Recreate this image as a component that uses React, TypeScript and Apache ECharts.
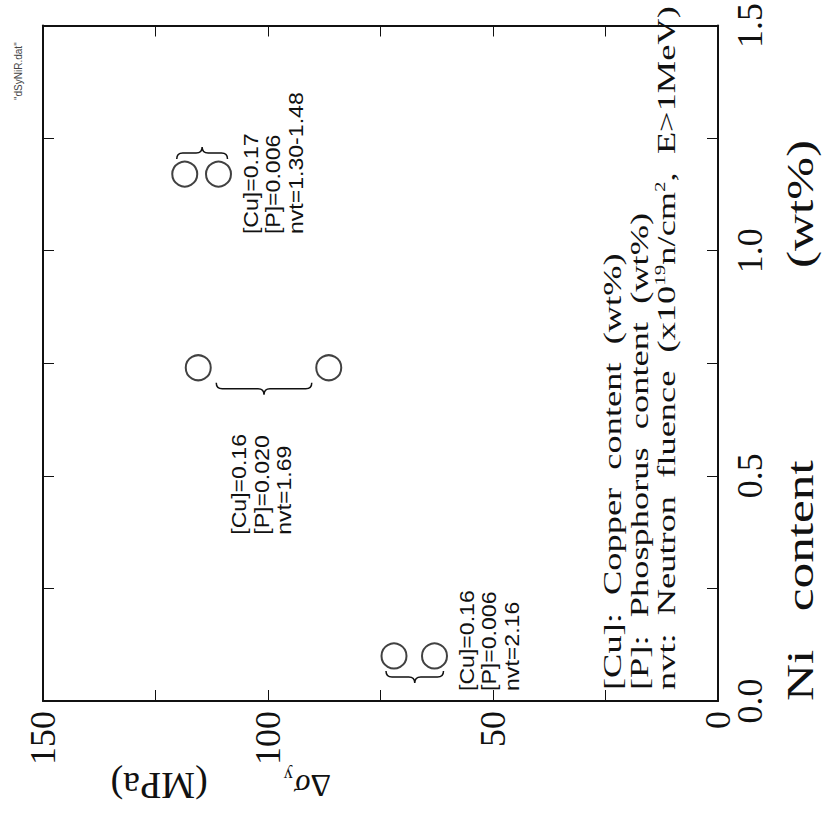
import { useEffect, useRef } from "react";
import * as echarts from "echarts";

// Ni content (wt%) of each specimen pair
const niContent = [0.1, 0.74, 1.17];
// Δσy (MPa) of the two specimens in each pair
const deltaSigmaHigh = [72, 115.5, 118.5];
const deltaSigmaLow = [63, 86.5, 111];
// chemistry and fluence of each pair
const copperContent = ["0.16", "0.16", "0.17"];
const phosphorusContent = ["0.006", "0.020", "0.006"];
const neutronFluence = ["2.16", "1.69", "1.30-1.48"];
// which side of the circles the brace sits on, and where the note goes
const braceBelow = [true, true, false];
const noteUnderBrace = [false, true, false];

const niTickLabel = (v: number) => v.toFixed(1);
const sigmaTickLabel = (v: number) => String(v);

const legendLines = [
  "[Cu]:  Copper  content  (wt%)",
  "[P]:  Phosphorus  content  (wt%)",
  "nvt:  Neutron  fluence  (x10{sup|19}n/cm{sup|2},  E>1MeV)",
];
const niTitle = "Ni   content               (wt%)";
const fileTag = '"dSyNiR.dat"';

const SERIF = "'Liberation Serif', 'DejaVu Serif', serif";
const SANS = "'Liberation Sans', 'DejaVu Sans', sans-serif";
const INK = "#111";

// curly brace between x1 and x2, starting at y0 and pointing in dir (+1 down, -1 up)
function bracePath(x1: number, x2: number, y0: number, dir: number) {
  const h = 12 * dir;
  const m = (x1 + x2) / 2;
  const c = 6;
  const yb = y0 + h / 2;
  return (
    `M${x1},${y0} Q${x1},${yb} ${x1 + c},${yb} L${m - c},${yb} ` +
    `Q${m},${yb} ${m},${y0 + h} Q${m},${yb} ${m + c},${yb} ` +
    `L${x2 - c},${yb} Q${x2},${yb} ${x2},${y0}`
  );
}

const circleData: number[][] = [];
niContent.forEach((ni, i) => {
  circleData.push([deltaSigmaHigh[i], ni]);
  circleData.push([deltaSigmaLow[i], ni]);
});
const groupData = niContent.map((ni, i) => [deltaSigmaHigh[i], ni, deltaSigmaLow[i]]);

const frameAxis = {
  axisLine: { show: true, onZero: false, lineStyle: { color: INK, width: 2 } },
  axisTick: { show: true, inside: true, length: 11, lineStyle: { color: INK, width: 1 } },
  minorTick: { show: true, splitNumber: 2, length: 11, lineStyle: { color: INK, width: 1 } },
  splitLine: { show: false },
};

const option = {
  animation: false,
  backgroundColor: "#fff",
  grid: { left: 43, right: 107, top: 23, bottom: 130 },
  xAxis: [
    {
      type: "value",
      position: "bottom",
      inverse: true,
      min: 0,
      max: 150,
      interval: 50,
      ...frameAxis,
      axisLabel: {
        rotate: 90,
        margin: 10,
        formatter: sigmaTickLabel,
        fontFamily: SERIF,
        fontSize: 36,
        color: INK,
      },
    },
    {
      type: "value",
      position: "top",
      inverse: true,
      min: 0,
      max: 150,
      interval: 50,
      ...frameAxis,
      axisLabel: { show: false },
    },
  ],
  yAxis: [
    {
      type: "value",
      position: "right",
      min: 0,
      max: 1.5,
      interval: 0.5,
      ...frameAxis,
      axisLabel: {
        rotate: 90,
        margin: 14,
        formatter: niTickLabel,
        fontFamily: SERIF,
        fontSize: 36,
        color: INK,
      },
    },
    {
      type: "value",
      position: "left",
      min: 0,
      max: 1.5,
      interval: 0.5,
      ...frameAxis,
      axisLabel: { show: false },
    },
  ],
  graphic: [
    // explanation of the abbreviations
    {
      type: "text",
      x: 599,
      y: 690,
      rotation: Math.PI / 2,
      scaleX: 1.4,
      style: {
        text: legendLines.join("\n"),
        fill: INK,
        font: `26px ${SERIF}`,
        align: "left",
        verticalAlign: "top",
        lineHeight: 27,
        rich: {
          sup: { fontFamily: SERIF, fontSize: 15, verticalAlign: "top", lineHeight: 14 },
        },
      },
    },
    // Ni axis title
    {
      type: "text",
      x: 800,
      y: 701,
      rotation: Math.PI / 2,
      scaleX: 1.35,
      style: {
        text: niTitle,
        fill: INK,
        font: `38px ${SERIF}`,
        align: "left",
        verticalAlign: "middle",
      },
    },
    // Δσy axis title, turned upside down
    {
      type: "text",
      x: 331,
      y: 786,
      rotation: Math.PI,
      style: {
        text: "{d|Δ}{g|σ}{s|y}{m|        (MPa)}",
        fill: INK,
        align: "left",
        verticalAlign: "middle",
        rich: {
          d: { fontFamily: SERIF, fontSize: 32, lineHeight: 40, verticalAlign: "middle", fill: INK },
          g: { fontFamily: SERIF, fontSize: 32, fontStyle: "italic", lineHeight: 40, verticalAlign: "middle", fill: INK },
          s: { fontFamily: SERIF, fontSize: 18, lineHeight: 18, verticalAlign: "bottom", fill: INK, padding: [0, 0, 0, 2] },
          m: { fontFamily: SERIF, fontSize: 38, lineHeight: 40, verticalAlign: "middle", fill: INK },
        },
      },
    },
    {
      type: "text",
      x: 13,
      y: 100,
      rotation: Math.PI / 2,
      style: {
        text: fileTag,
        fill: "#444",
        font: `10px ${SANS}`,
        align: "left",
        verticalAlign: "top",
      },
    },
  ],
  series: [
    {
      type: "scatter",
      data: circleData,
      symbol: "circle",
      symbolSize: 25,
      itemStyle: { color: "rgba(255,255,255,0)", borderColor: INK, borderWidth: 2 },
      silent: true,
      z: 3,
    },
    {
      type: "custom",
      data: groupData,
      silent: true,
      z: 2,
      renderItem: (params: any, api: any) => {
        const i = params.dataIndex;
        const ni = api.value(1);
        const a = api.coord([api.value(0), ni]);
        const b = api.coord([api.value(2), ni]);
        const xl = Math.min(a[0], b[0]);
        const xr = Math.max(a[0], b[0]);
        const yc = a[1];
        const wide = xr - xl > 80;
        const x1 = wide ? xl + 18 : xl - 8;
        const x2 = wide ? xr - 17 : xr + 9;
        const dir = braceBelow[i] ? 1 : -1;
        const y0 = yc + dir * 15;
        let tx: number;
        let ty: number;
        if (noteUnderBrace[i]) {
          tx = (x1 + x2) / 2 - 36;
          ty = yc + 167;
        } else {
          tx = xr + 21;
          ty = braceBelow[i] ? yc + 35 : yc + 60;
        }
        return {
          type: "group",
          children: [
            {
              type: "path",
              shape: { pathData: bracePath(x1, x2, y0, dir) },
              style: { fill: "none", stroke: INK, lineWidth: 1.5 },
            },
            {
              type: "text",
              x: tx,
              y: ty,
              rotation: Math.PI / 2,
              scaleX: 1.1,
              style: {
                text: `[Cu]=${copperContent[i]}\n[P]=${phosphorusContent[i]}\nnvt=${neutronFluence[i]}`,
                fill: INK,
                font: `21px ${SANS}`,
                align: "left",
                verticalAlign: "top",
                lineHeight: 22.5,
              },
            },
          ],
        };
      },
    },
  ],
};

export default function App() {
  const ref = useRef<HTMLDivElement>(null);
  useEffect(() => {
    const chart = echarts.init(ref.current!, null, { renderer: "svg" });
    chart.setOption(option as any);
    return () => chart.dispose();
  }, []);
  return (
    <div
      ref={ref}
      style={{ position: "absolute", left: 0, top: 0, width: 825, height: 831, background: "#fff" }}
    />
  );
}
